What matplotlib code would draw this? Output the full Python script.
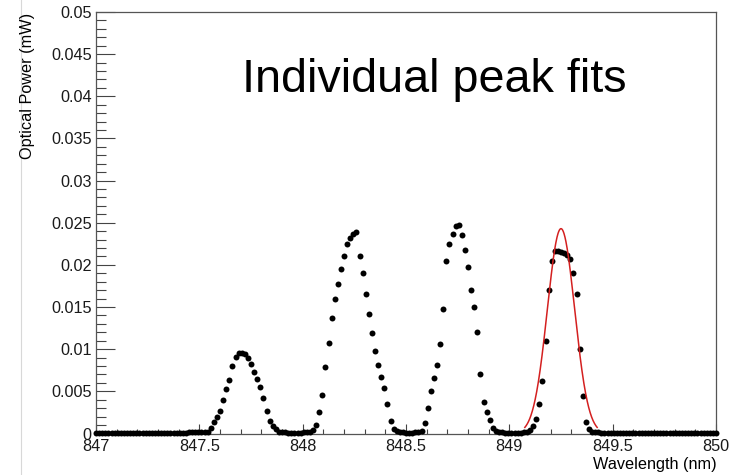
import numpy as np
import matplotlib
matplotlib.use('Agg')
import matplotlib.pyplot as plt
from matplotlib.ticker import MultipleLocator, FuncFormatter
from matplotlib.lines import Line2D

plt.rcParams['font.family'] = ['Liberation Sans', 'DejaVu Sans']


# Spectrum: first sample and step (nm), measured optical power (mW).
wl_start = 847.0
wl_step = 0.015
power = [
    # 847.000 .. 847.525
    0.0001, 0.0001, 0.0001, 0.0001, 0.0001, 0.0001, 0.0001, 0.0001, 0.0001, 0.0001,
    0.0001, 0.0001, 0.0001, 0.0001, 0.0001, 0.0001, 0.0001, 0.0001, 0.0001, 0.0001,
    0.0001, 0.0001, 0.0001, 0.0001, 0.0001, 0.0001, 0.0001, 0.0001, 0.0001, 0.0001,
    0.00012, 0.00012, 0.00013, 0.00014, 0.00015, 0.00017,
    # first peak
    0.0002, 0.0006, 0.0014, 0.0020, 0.0027, 0.0040, 0.0053, 0.0063, 0.0080, 0.0091,
    0.0095, 0.0096, 0.0094, 0.0090, 0.0082, 0.0073, 0.0065, 0.0055, 0.0042, 0.0027,
    0.0015, 0.0009, 0.0005, 0.0002,
    0.00015, 0.00012, 0.0001, 0.0001, 0.0001, 0.0001, 0.0001, 0.00012, 0.00015, 0.0002,
    # second peak
    0.0004, 0.0010, 0.0026, 0.0046, 0.0079, 0.0107, 0.0137, 0.0160, 0.0177, 0.0195,
    0.0210, 0.0225, 0.0232, 0.0237, 0.0239, 0.0210, 0.0190, 0.0165, 0.0142, 0.0119,
    0.0098, 0.0081, 0.0067, 0.0054, 0.0035, 0.0015, 0.0005, 0.0003,
    0.0002, 0.00015, 0.0001, 0.0001, 0.0001, 0.00015, 0.0002, 0.0003,
    # third peak
    0.0012, 0.0030, 0.0050, 0.0066, 0.0081, 0.0106, 0.0148, 0.0205, 0.0225, 0.0237,
    0.0246, 0.0247, 0.0236, 0.0218, 0.0198, 0.0170, 0.0150, 0.0120, 0.0070, 0.0037,
    0.0025, 0.0016, 0.0007, 0.0003,
    0.0002, 0.00015, 0.0001, 0.0001, 0.0001, 0.0001, 0.0001, 0.0001, 0.00012, 0.00015,
    # fourth peak
    0.0004, 0.0009, 0.0017, 0.0035, 0.0062, 0.0110, 0.0170, 0.0205, 0.0216, 0.0217,
    0.0215, 0.0214, 0.0212, 0.0207, 0.0190, 0.0165, 0.0100, 0.0045, 0.0014, 0.0005,
    0.0002,
    # 849.415 .. 850.000
    0.00015, 0.00012, 0.0001, 0.0001, 0.0001, 0.0001, 0.0001, 0.0001, 0.0001, 0.0001,
    0.0001, 0.0001, 0.0001, 0.0001, 0.0001, 0.0001, 0.0001, 0.0001, 0.0001, 0.0001,
    0.0001, 0.0001, 0.0001, 0.0001, 0.0001, 0.0001, 0.0001, 0.0001, 0.0001, 0.0001,
    0.0001, 0.0001, 0.0001, 0.0001, 0.0001, 0.0001, 0.0001, 0.0001, 0.0001, 0.0001,
]

# Gaussian fit of the last peak.
fit_amp = 0.0243
fit_mean = 849.25
fit_sigma = 0.066
fit_lo = 849.075
fit_hi = 849.425

wl = wl_start + wl_step * np.arange(len(power))
xf = np.linspace(fit_lo, fit_hi, 300)
yf = fit_amp * np.exp(-(xf - fit_mean) ** 2 / (2 * fit_sigma ** 2))


W, H = 743, 475
fig = plt.figure(figsize=(W / 100, H / 100), dpi=100)
ax = fig.add_axes([96 / W, 41.5 / H, 620 / W, 421.5 / H])

ax.plot(wl, power, 'o', color='black', ms=4.3, mew=0, clip_on=False, zorder=3)
ax.plot(xf, yf, color='#d42020', lw=1.1, zorder=4)

ax.set_xlim(847, 850)
ax.set_ylim(0, 0.05)

# ROOT style axes: inner ticks, no ticks on top/right.
ax.xaxis.set_major_locator(MultipleLocator(0.5))
ax.xaxis.set_minor_locator(MultipleLocator(0.1))
ax.yaxis.set_major_locator(MultipleLocator(0.005))
ax.yaxis.set_minor_locator(MultipleLocator(0.001))
ax.xaxis.set_major_formatter(FuncFormatter(lambda v, p: '%g' % round(v, 2)))
ax.yaxis.set_major_formatter(FuncFormatter(lambda v, p: '%g' % round(v, 4)))

ax.tick_params(which='both', direction='in', top=False, right=False,
               color='#444444', width=0.8, labelsize=11.7, labelcolor='#1a1a1a')
ax.tick_params(axis='y', which='major', length=13.5, pad=3)
ax.tick_params(axis='y', which='minor', length=7)
ax.tick_params(axis='x', which='major', length=7.5, pad=4)
ax.tick_params(axis='x', which='minor', length=3.8)

for s in ax.spines.values():
    s.set_color('#555555')
    s.set_linewidth(0.9)

fig.text(241.7 / W, 1 - 91.7 / H, 'Individual peak fits', fontsize=33.7,
         ha='left', va='baseline')
fig.text(27.5 / W, 1 - 12.5 / H, 'Optical Power (mW)', fontsize=11.7,
         rotation=90, ha='center', va='top')
fig.text(716.5 / W, 1 - 469.3 / H, 'Wavelength (nm)', fontsize=11.7,
         ha='right', va='baseline')

# thin grey frame edge at the left of the canvas
fig.add_artist(Line2D([20.5 / W, 20.5 / W], [0, 1], color='#d8d8d8', lw=0.8,
                      transform=fig.transFigure))

fig.savefig('out.png', dpi=100)
